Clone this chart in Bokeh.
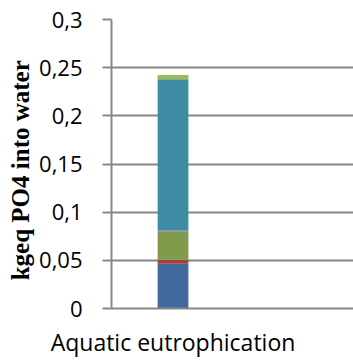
from bokeh.plotting import figure
from bokeh.models import (ColumnDataSource, Range1d, FixedTicker,
                          CustomJSTickFormatter)
from bokeh.embed import file_html
from bokeh.resources import INLINE

# Impact category on the x axis
categories = ["Aquatic eutrophication"]

# Stacked contributions (kgeq PO4 into water), bottom to top
segment_keys = ["s1", "s2", "s3", "s4", "s5", "s6"]
segment_values = [0.0464, 0.0041, 0.0294, 0.0011, 0.1570, 0.0043]
segment_colors = ["#41699c", "#a3403d", "#7f9b4b", "#7a5e9a", "#3e8ca3", "#9bbb59"]

# Value axis ticks
y_ticks = [0, 0.05, 0.10, 0.15, 0.20, 0.25, 0.30]
y_title = "kgeq PO4 into water"

data = {"x": list(range(len(categories)))}
for key, val in zip(segment_keys, segment_values):
    data[key] = [val]
source = ColumnDataSource(data)

p = figure(width=353, height=360, output_backend="svg", toolbar_location=None,
           x_range=Range1d(-0.5, 1.467), y_range=Range1d(0, 0.3),
           min_border_left=111, min_border_right=0,
           min_border_top=19, min_border_bottom=50)
p.outline_line_color = None
p.background_fill_color = "white"
p.border_fill_color = "white"

p.vbar_stack(segment_keys, x="x", width=0.25, source=source,
             color=segment_colors, line_color=None)

grid_color = "#888888"

# Value axis
p.yaxis.ticker = FixedTicker(ticks=y_ticks)
p.yaxis.formatter = CustomJSTickFormatter(code="""
    let s = tick.toFixed(2).replace(/0+$/, '').replace(/\\.$/, '');
    return s.replace('.', ',');
""")
p.yaxis.axis_line_color = grid_color
p.yaxis.axis_line_width = 2
p.yaxis.major_tick_line_color = grid_color
p.yaxis.major_tick_line_width = 2
p.yaxis.major_tick_out = 9
p.yaxis.major_tick_in = 0
p.yaxis.minor_tick_line_color = None
p.yaxis.major_label_standoff = 20
p.yaxis.major_label_text_font = "Open Sans"
p.yaxis.major_label_text_font_size = "22px"
p.yaxis.major_label_text_color = "black"
# two no-break spaces nudge the rotated title a little below centre
p.yaxis.axis_label = y_title + "\u00a0\u00a0"
p.yaxis.axis_label_text_font = "Liberation Serif"
p.yaxis.axis_label_text_font_style = "bold"
p.yaxis.axis_label_text_font_size = "25px"
p.yaxis.axis_label_text_color = "black"
p.yaxis.axis_label_standoff = 2

# Category axis
p.xaxis.ticker = FixedTicker(ticks=data["x"])
p.xaxis.formatter = CustomJSTickFormatter(
    args=dict(names=categories),
    code="return names[Math.round(tick)] || '';")
p.xaxis.axis_line_color = grid_color
p.xaxis.axis_line_width = 2
p.xaxis.major_tick_line_color = None
p.xaxis.minor_tick_line_color = None
p.xaxis.major_tick_out = 0
p.xaxis.major_tick_in = 0
p.xaxis.major_label_standoff = 17
p.xaxis.major_label_text_font = "Open Sans"
p.xaxis.major_label_text_font_size = "23px"
p.xaxis.major_label_text_color = "black"

p.xgrid.grid_line_color = None
p.ygrid.ticker = FixedTicker(ticks=y_ticks)
p.ygrid.grid_line_color = grid_color
p.ygrid.grid_line_width = 2

open("out.html", "w").write(file_html(p, INLINE))
